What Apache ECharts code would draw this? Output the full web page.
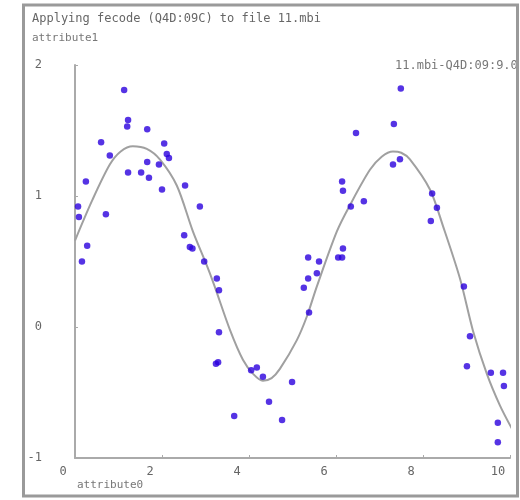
<!DOCTYPE html>
<html>
<head>
<meta charset="utf-8">
<script src="https://cdn.jsdelivr.net/npm/echarts@6/dist/echarts.min.js"></script>
<style>html,body{margin:0;padding:0;background:#fff}#c{width:520px;height:500px}</style>
</head>
<body>
<div id="c"></div>
<script>
const titleText = 'Applying fecode (Q4D:09C) to file 11.mbi';
const xName = 'attribute0';
const yName = 'attribute1';
const fitName = '11.mbi-Q4D:09:9.0';
const xTicks = [0, 2, 4, 6, 8, 10];
const yTicks = [-1, 0, 1, 2];

const pointX = [0.07,0.09,0.16,0.25,0.28,0.60,0.71,0.80,1.13,1.20,1.22,1.22,1.52,1.66,1.66,1.70,1.93,2.00,2.05,2.11,2.16,2.53,2.51,2.64,2.70,2.87,2.97,3.26,3.31,3.31,3.24,3.29,3.66,4.05,4.18,4.32,4.46,4.76,4.99,5.26,5.36,5.38,5.36,5.56,5.61,6.05,6.14,6.16,6.14,6.16,6.34,6.64,6.46,7.31,7.47,7.33,7.49,8.21,8.32,8.18,8.94,9.08,9.01,9.56,9.84,9.86,9.72,9.72];
const pointY = [0.92,0.84,0.50,1.11,0.62,1.41,0.86,1.31,1.81,1.53,1.58,1.18,1.18,1.51,1.26,1.14,1.24,1.05,1.40,1.32,1.29,1.08,0.70,0.61,0.60,0.92,0.50,0.37,0.28,-0.04,-0.28,-0.27,-0.68,-0.33,-0.31,-0.38,-0.57,-0.71,-0.42,0.30,0.37,0.11,0.53,0.41,0.50,0.53,0.53,0.60,1.11,1.04,0.92,0.96,1.48,1.24,1.28,1.55,1.82,1.02,0.91,0.81,0.31,-0.07,-0.30,-0.35,-0.35,-0.45,-0.73,-0.88];

const curveX = [0,0.4,0.8,1.05,1.33,1.65,1.95,2.34,2.71,3.03,3.20,3.56,3.86,4.10,4.32,4.52,4.71,5.10,5.33,5.56,6.02,6.32,6.78,7.05,7.31,7.50,7.70,8.16,8.46,8.85,9.15,9.47,9.77,10.05];
const curveY = [0.66,0.97,1.24,1.34,1.38,1.36,1.28,1.08,0.73,0.47,0.32,-0.02,-0.25,-0.36,-0.41,-0.39,-0.32,-0.10,0.08,0.31,0.73,0.93,1.20,1.30,1.34,1.33,1.28,1.05,0.77,0.37,-0.03,-0.36,-0.60,-0.78];

const mono = '"DejaVu Sans Mono", "Liberation Mono", monospace';
const txtColor = '#666';

const chart = echarts.init(document.getElementById('c'), null, {renderer: 'canvas'});
chart.setOption({
  animation: false,
  backgroundColor: '#fff',
  grid: {left: 75, top: 65, width: 435, height: 393, containLabel: false},
  xAxis: {
    type: 'value', min: xTicks[0], max: xTicks[xTicks.length - 1], interval: 2,
    axisLine: {show: true, onZero: false, lineStyle: {color: '#aaa', width: 2}},
    axisTick: {show: true, inside: true, length: 3, lineStyle: {color: '#aaa'}},
    axisLabel: {color: txtColor, fontFamily: mono, fontSize: 12, margin: 8, padding: [0, 24, 0, 0]},
    splitLine: {show: false}
  },
  yAxis: {
    type: 'value', min: yTicks[0], max: yTicks[yTicks.length - 1], interval: 1,
    axisLine: {show: true, onZero: false, lineStyle: {color: '#aaa', width: 2}},
    axisTick: {show: true, inside: true, length: 3, lineStyle: {color: '#aaa'}},
    axisLabel: {color: txtColor, fontFamily: mono, fontSize: 12, margin: 33},
    splitLine: {show: false}
  },
  series: [
    {
      name: fitName, type: 'line', smooth: 0.3, showSymbol: false, silent: true,
      lineStyle: {color: '#a0a0a0', width: 2},
      data: curveX.map((x, i) => [x, curveY[i]]), z: 2
    },
    {
      type: 'scatter', symbolSize: 6.5,
      itemStyle: {color: '#2a00dd'},
      data: pointX.map((x, i) => [x, pointY[i]]), z: 3
    }
  ],
  graphic: [
    {type: 'text', left: 32, top: 13, style: {text: titleText, font: '12px ' + mono, fill: txtColor}},
    {type: 'text', left: 32, top: 33, style: {text: yName, font: '11px ' + mono, fill: '#777'}},
    {type: 'text', left: 77, top: 480, style: {text: xName, font: '11px ' + mono, fill: '#777'}},
    {type: 'text', left: 395, top: 60, style: {text: fitName, font: '12px ' + mono, fill: '#777'}},
    {type: 'rect', shape: {x: 23.5, y: 5, width: 494, height: 491}, style: {fill: 'none', stroke: '#9a9a9a', lineWidth: 3}, z: 100},
    {type: 'rect', shape: {x: 519, y: 0, width: 10, height: 500}, style: {fill: '#fff'}, z: 99}
  ]
});
</script>
</body>
</html>
